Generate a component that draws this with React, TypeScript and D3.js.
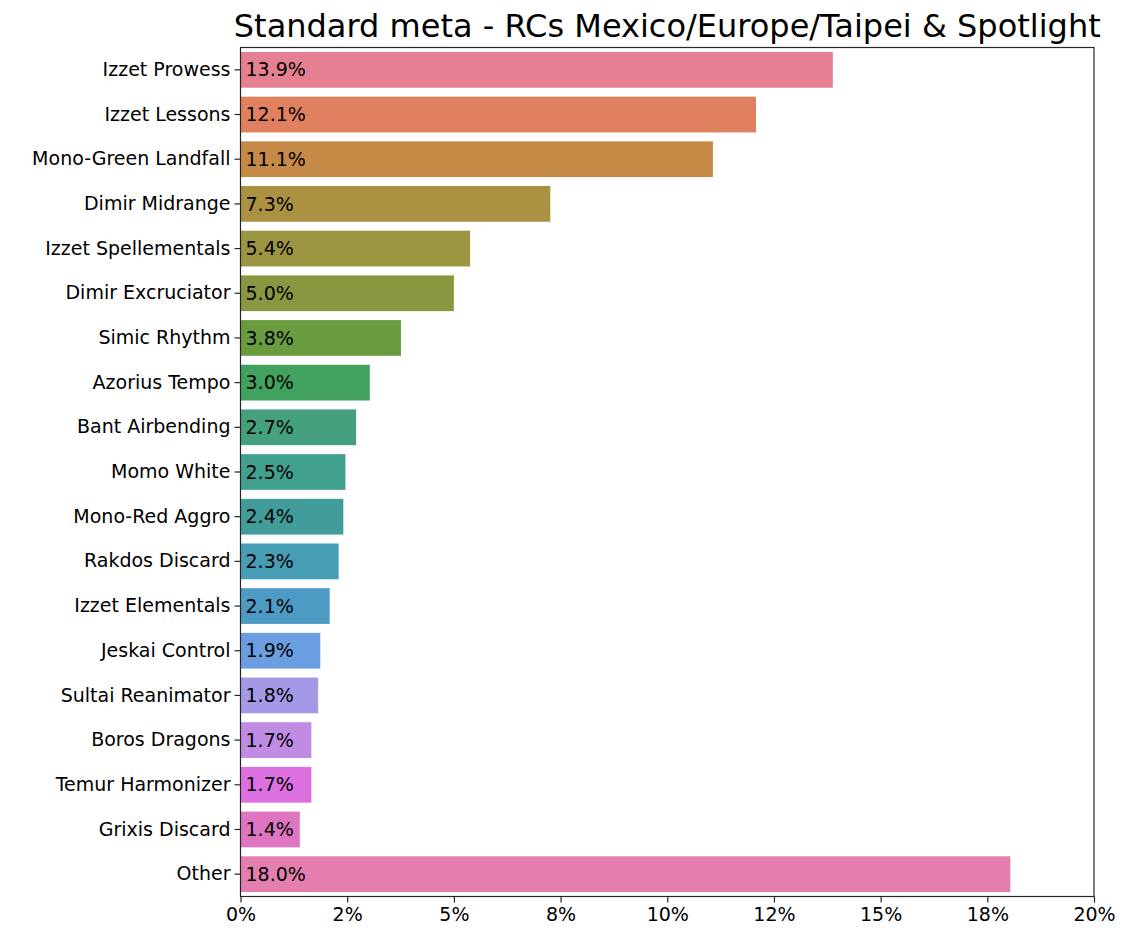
import React, { useEffect, useRef } from "react";
import * as d3 from "d3";

// archetype shares (percent)
const decks = [
  "Izzet Prowess",
  "Izzet Lessons",
  "Mono-Green Landfall",
  "Dimir Midrange",
  "Izzet Spellementals",
  "Dimir Excruciator",
  "Simic Rhythm",
  "Azorius Tempo",
  "Bant Airbending",
  "Momo White",
  "Mono-Red Aggro",
  "Rakdos Discard",
  "Izzet Elementals",
  "Jeskai Control",
  "Sultai Reanimator",
  "Boros Dragons",
  "Temur Harmonizer",
  "Grixis Discard",
  "Other",
];
const shares = [
  13.88, 12.08, 11.07, 7.26, 5.38, 5.0, 3.76, 3.03, 2.71, 2.46, 2.41, 2.3,
  2.09, 1.87, 1.82, 1.66, 1.66, 1.39, 18.04,
];
const barColors = [
  "#e58093", "#e1805f", "#c68a47", "#ab9142", "#9b9440", "#8a9740",
  "#6a9c3f", "#41a15e", "#44a07d", "#42a08f", "#429d9a", "#479db3",
  "#4d9bc4", "#6a9ee0", "#a399e6", "#c08be2", "#dd70e1", "#df74c0",
  "#e37fae",
];
const xTicks = [0, 2.5, 5, 7.5, 10, 12.5, 15, 17.5, 20];
const xTickLabels = ["0%", "2%", "5%", "8%", "10%", "12%", "15%", "18%", "20%"];
const title = "Standard meta - RCs Mexico/Europe/Taipei & Spotlight";

const W = 1130;
const H = 941;
const font = "'DejaVu Sans', sans-serif";

const App: React.FC = () => {
  const ref = useRef<SVGSVGElement>(null);

  useEffect(() => {
    const svg = d3.select(ref.current);
    svg.selectAll("*").remove();

    const margin = { top: 47.5, right: 36, bottom: 44.5, left: 240.5 };
    const x = d3
      .scaleLinear()
      .domain([0, 20])
      .range([margin.left, W - margin.right]);
    const y = d3
      .scaleBand()
      .domain(decks)
      .range([margin.top, H - margin.bottom])
      .paddingInner(0.2)
      .paddingOuter(0.1);

    const rows = decks.map((d, i) => ({ deck: d, value: shares[i], color: barColors[i] }));

    svg
      .append("rect")
      .attr("width", W)
      .attr("height", H)
      .attr("fill", "#fff");

    svg
      .selectAll(".bar")
      .data(rows)
      .enter()
      .append("rect")
      .attr("class", "bar")
      .attr("x", x(0))
      .attr("y", (d) => y(d.deck)!)
      .attr("width", (d) => x(d.value) - x(0))
      .attr("height", y.bandwidth())
      .attr("fill", (d) => d.color);

    svg
      .selectAll(".val")
      .data(rows)
      .enter()
      .append("text")
      .attr("x", x(0) + 5)
      .attr("y", (d) => y(d.deck)! + y.bandwidth() / 2)
      .attr("dy", "0.35em")
      .style("font-family", font)
      .style("font-size", "19px")
      .attr("fill", "#000")
      .text((d) => `${d.value.toFixed(1)}%`);

    // frame
    svg
      .append("rect")
      .attr("x", x(0))
      .attr("y", margin.top)
      .attr("width", x(20) - x(0))
      .attr("height", H - margin.bottom - margin.top)
      .attr("fill", "none")
      .attr("stroke", "#262626")
      .attr("stroke-width", 1.2);

    const xAxis = svg
      .append("g")
      .attr("transform", `translate(0,${H - margin.bottom})`)
      .call(
        d3
          .axisBottom(x)
          .tickValues(xTicks)
          .tickSize(6)
          .tickPadding(5)
          .tickFormat((_, i) => xTickLabels[i])
      );
    xAxis.select(".domain").remove();

    const yAxis = svg
      .append("g")
      .attr("transform", `translate(${x(0)},0)`)
      .call(d3.axisLeft(y).tickSize(6).tickPadding(4));
    yAxis.select(".domain").remove();

    svg
      .selectAll(".tick line")
      .attr("stroke", "#262626")
      .attr("stroke-width", 1.2);
    svg
      .selectAll(".tick text")
      .style("font-family", font)
      .style("font-size", "19px")
      .attr("fill", "#000");

    svg
      .append("text")
      .attr("x", (x(0) + x(20)) / 2)
      .attr("y", 37)
      .attr("text-anchor", "middle")
      .style("font-family", font)
      .style("font-size", "32px")
      .attr("fill", "#000")
      .text(title);
  }, []);

  return (
    <svg
      ref={ref}
      width={W}
      height={H}
      style={{ position: "absolute", left: 0, top: 0 }}
    />
  );
};

export default App;
